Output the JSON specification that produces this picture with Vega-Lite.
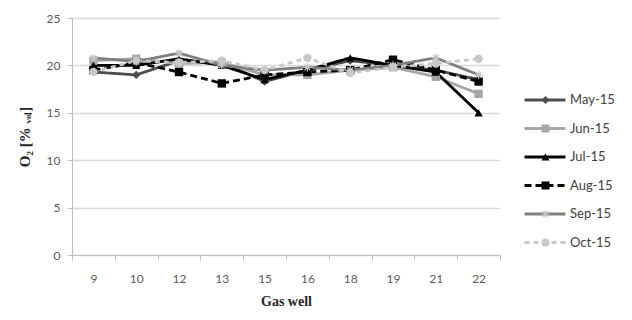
{
  "$schema": "https://vega.github.io/schema/vega-lite/v6.json",
  "autosize": {"type": "none"},
  "padding": {"left": 72, "top": 18, "right": 132, "bottom": 65},
  "width": 428,
  "height": 237,
  "background": "white",
  "config": {"view": {"stroke": null}},
  "data": {"values": [
    {"well": "9", "series": "May-15", "o2": 19.3},
    {"well": "10", "series": "May-15", "o2": 19.0},
    {"well": "12", "series": "May-15", "o2": 20.5},
    {"well": "13", "series": "May-15", "o2": 20.3},
    {"well": "15", "series": "May-15", "o2": 18.3},
    {"well": "16", "series": "May-15", "o2": 19.5},
    {"well": "18", "series": "May-15", "o2": 20.5},
    {"well": "19", "series": "May-15", "o2": 20.0},
    {"well": "21", "series": "May-15", "o2": 19.5},
    {"well": "22", "series": "May-15", "o2": 18.5},
    {"well": "9", "series": "Jun-15", "o2": 20.5},
    {"well": "10", "series": "Jun-15", "o2": 20.7},
    {"well": "12", "series": "Jun-15", "o2": 20.2},
    {"well": "13", "series": "Jun-15", "o2": 20.3},
    {"well": "15", "series": "Jun-15", "o2": 19.0},
    {"well": "16", "series": "Jun-15", "o2": 19.0},
    {"well": "18", "series": "Jun-15", "o2": 19.5},
    {"well": "19", "series": "Jun-15", "o2": 19.8},
    {"well": "21", "series": "Jun-15", "o2": 18.8},
    {"well": "22", "series": "Jun-15", "o2": 17.0},
    {"well": "9", "series": "Jul-15", "o2": 20.0},
    {"well": "10", "series": "Jul-15", "o2": 20.0},
    {"well": "12", "series": "Jul-15", "o2": 20.7},
    {"well": "13", "series": "Jul-15", "o2": 20.0},
    {"well": "15", "series": "Jul-15", "o2": 18.5},
    {"well": "16", "series": "Jul-15", "o2": 19.5},
    {"well": "18", "series": "Jul-15", "o2": 20.8},
    {"well": "19", "series": "Jul-15", "o2": 20.0},
    {"well": "21", "series": "Jul-15", "o2": 19.3},
    {"well": "22", "series": "Jul-15", "o2": 15.0},
    {"well": "9", "series": "Aug-15", "o2": 19.5},
    {"well": "10", "series": "Aug-15", "o2": 20.3},
    {"well": "12", "series": "Aug-15", "o2": 19.3},
    {"well": "13", "series": "Aug-15", "o2": 18.1},
    {"well": "15", "series": "Aug-15", "o2": 19.0},
    {"well": "16", "series": "Aug-15", "o2": 19.3},
    {"well": "18", "series": "Aug-15", "o2": 19.5},
    {"well": "19", "series": "Aug-15", "o2": 20.6},
    {"well": "21", "series": "Aug-15", "o2": 19.5},
    {"well": "22", "series": "Aug-15", "o2": 18.3},
    {"well": "9", "series": "Sep-15", "o2": 20.8},
    {"well": "10", "series": "Sep-15", "o2": 20.4},
    {"well": "12", "series": "Sep-15", "o2": 21.3},
    {"well": "13", "series": "Sep-15", "o2": 20.0},
    {"well": "15", "series": "Sep-15", "o2": 19.5},
    {"well": "16", "series": "Sep-15", "o2": 19.8},
    {"well": "18", "series": "Sep-15", "o2": 19.5},
    {"well": "19", "series": "Sep-15", "o2": 20.0},
    {"well": "21", "series": "Sep-15", "o2": 20.8},
    {"well": "22", "series": "Sep-15", "o2": 19.0},
    {"well": "9", "series": "Oct-15", "o2": 19.3},
    {"well": "10", "series": "Oct-15", "o2": 20.5},
    {"well": "12", "series": "Oct-15", "o2": 20.3},
    {"well": "13", "series": "Oct-15", "o2": 20.5},
    {"well": "15", "series": "Oct-15", "o2": 19.5},
    {"well": "16", "series": "Oct-15", "o2": 20.8},
    {"well": "18", "series": "Oct-15", "o2": 19.2},
    {"well": "19", "series": "Oct-15", "o2": 19.8},
    {"well": "21", "series": "Oct-15", "o2": 20.2},
    {"well": "22", "series": "Oct-15", "o2": 20.7}
  ]},
  "encoding": {
    "x": {
      "field": "well", "type": "ordinal", "sort": null, "bandPosition": 0.5,
      "scale": {"type": "band", "paddingInner": 0, "paddingOuter": 0},
      "axis": {
        "title": "Gas well", "titleFont": "Liberation Serif", "titleFontWeight": "bold", "titleFontSize": 14, "titleColor": "#262626", "titlePadding": 10,
        "labelFont": "Lato", "labelFontSize": 12, "labelColor": "#595959", "labelAngle": 0, "labelPadding": 13,
        "domainColor": "#bfbfbf", "tickColor": "#bfbfbf", "tickSize": 5, "tickBand": "extent", "grid": false
      }
    },
    "y": {
      "field": "o2", "type": "quantitative",
      "scale": {"domain": [0, 25], "nice": false},
      "axis": {
        "values": [0, 5, 10, 15, 20, 25],
        "title": "O₂ [% ᵥₒₗ]", "titleFont": "Liberation Serif", "titleFontWeight": "bold", "titleFontSize": 15, "titleColor": "#262626", "titlePadding": 14,
        "labelFont": "Lato", "labelFontSize": 12, "labelColor": "#595959", "labelPadding": 7,
        "domainColor": "#bfbfbf", "tickColor": "#bfbfbf", "tickSize": 5,
        "gridColor": "#d9d9d9", "gridWidth": 1.5
      }
    }
  },
  "layer": [
    {
      "mark": {"type": "line", "strokeWidth": 2.8},
      "encoding": {
        "stroke": {
          "field": "series", "type": "nominal", "sort": null,
          "scale": {"range": ["#4d4d4d", "#a6a6a6", "#000000", "#000000", "#808080", "#c8c8c8"]},
          "legend": {
            "title": null, "orient": "none", "legendX": 451, "legendY": 74, "padding": 0,
            "symbolType": "stroke", "symbolSize": 1681, "symbolStrokeWidth": 2.8,
            "labelFont": "Lato", "labelFontSize": 13, "labelColor": "#404040", "labelOffset": 3,
            "clipHeight": 16, "rowPadding": 12.5
          }
        },
        "strokeDash": {
          "field": "series", "type": "nominal", "sort": null,
          "scale": {"range": [[1, 0], [1, 0], [1, 0], [7, 4], [1, 0], [5, 4]]},
          "legend": {
            "title": null, "orient": "none", "legendX": 451, "legendY": 74, "padding": 0,
            "symbolType": "stroke", "symbolSize": 1681, "symbolStrokeWidth": 2.8,
            "labelFont": "Lato", "labelFontSize": 13, "labelColor": "#404040", "labelOffset": 3,
            "clipHeight": 16, "rowPadding": 12.5
          }
        }
      }
    },
    {
      "mark": {"type": "point", "filled": true, "opacity": 1, "strokeWidth": 0},
      "encoding": {
        "fill": {
          "field": "series", "type": "nominal",
          "scale": {"domain": ["May-15", "Jun-15", "Jul-15", "Aug-15", "Sep-15", "Oct-15"], "range": ["#4d4d4d", "#a6a6a6", "#000000", "#000000", "#c4c4c4", "#c8c8c8"]},
          "legend": {
            "title": null, "orient": "none", "legendX": 467, "legendY": 74, "padding": 0,
            "symbolSize": 64, "symbolOpacity": 1, "symbolStrokeWidth": 0,
            "labelExpr": "''", "labelFontSize": 13, "labelOffset": 0,
            "clipHeight": 16, "rowPadding": 12.5
          }
        },
        "shape": {
          "field": "series", "type": "nominal",
          "scale": {"domain": ["May-15", "Jun-15", "Jul-15", "Aug-15", "Sep-15", "Oct-15"], "range": ["diamond", "square", "triangle-up", "square", "M-1,-0.15L1,-0.15L1,0.15L-1,0.15ZM-0.15,-1L0.15,-1L0.15,1L-0.15,1ZM-0.6,-0.8L0.8,0.6L0.6,0.8L-0.8,-0.6ZM-0.8,0.6L0.6,-0.8L0.8,-0.6L-0.6,0.8Z", "circle"]},
          "legend": {
            "title": null, "orient": "none", "legendX": 467, "legendY": 74, "padding": 0,
            "symbolSize": 64, "symbolOpacity": 1, "symbolStrokeWidth": 0,
            "labelExpr": "''", "labelFontSize": 13, "labelOffset": 0,
            "clipHeight": 16, "rowPadding": 12.5
          }
        },
        "size": {"value": 70}
      }
    }
  ]
}
